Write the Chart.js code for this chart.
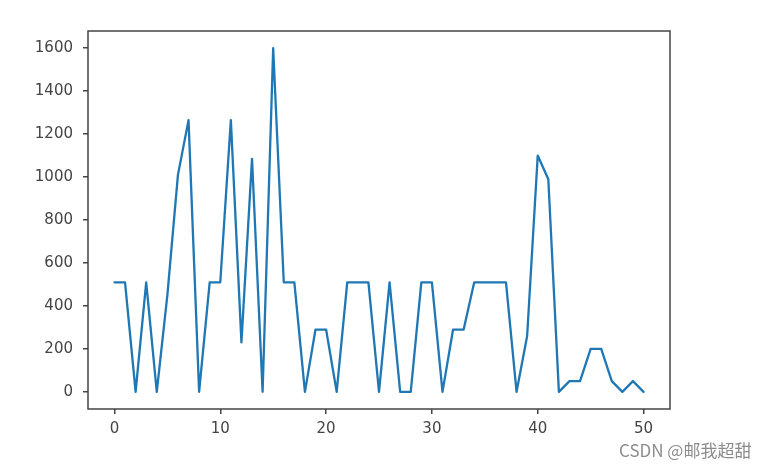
<!DOCTYPE html>
<html>
<head>
<meta charset="utf-8">
<script src="https://cdn.jsdelivr.net/npm/chart.js@4/dist/chart.umd.min.js"></script>
<style>
  html, body { margin: 0; padding: 0; background: #fff; }
  #wrap { position: relative; width: 769px; height: 467px; }
  #mark { position: absolute; left: 619px; top: 437px; font: 17px "Noto Sans CJK SC", "Liberation Sans", sans-serif; color: #8c8c8c; }
</style>
</head>
<body>
<div id="wrap">
  <canvas id="chart" width="769" height="467"></canvas>
  <div id="mark">CSDN @邮我超甜</div>
</div>
<script>
// values, one per x step 0..50
const xValues = [];
for (let i = 0; i <= 50; i++) xValues.push(i);
const yValues = [
  510, 510, 0, 510, 0, 450, 1010, 1265, 0, 510,
  510, 1265, 230, 1085, 0, 1600, 510, 510, 0, 290,
  290, 0, 510, 510, 510, 0, 510, 0, 0, 510,
  510, 0, 290, 290, 510, 510, 510, 510, 0, 260,
  1100, 990, 0, 50, 50, 200, 200, 50, 0, 50,
  0
];
const xTicks = [0, 10, 20, 30, 40, 50];
const yTicks = [0, 200, 400, 600, 800, 1000, 1200, 1400, 1600];

const tickFont = { family: "DejaVu Sans", size: 15 };
const axisColor = '#444';

// frame round the plot area like matplotlib's spines
const boxPlugin = {
  id: 'box',
  afterDraw(chart) {
    const a = chart.chartArea, ctx = chart.ctx;
    ctx.save();
    ctx.strokeStyle = axisColor;
    ctx.lineWidth = 1.5;
    ctx.strokeRect(a.left, a.top, a.right - a.left, a.bottom - a.top);
    ctx.restore();
  }
};

new Chart(document.getElementById('chart'), {
  type: 'line',
  data: {
    datasets: [{
      data: xValues.map((x, i) => ({ x: x, y: yValues[i] })),
      borderColor: '#1f77b4',
      borderWidth: 2.3,
      borderJoinStyle: 'round',
      borderCapStyle: 'round',
      pointRadius: 0,
      tension: 0,
      fill: false
    }]
  },
  options: {
    responsive: false,
    animation: false,
    layout: { padding: { left: 0, right: 99, top: 31, bottom: 0 } },
    plugins: { legend: { display: false }, tooltip: { enabled: false } },
    scales: {
      x: {
        type: 'linear',
        min: -2.5,
        max: 52.5,
        afterBuildTicks: (axis) => { axis.ticks = xTicks.map(v => ({ value: v })); },
        afterFit: (axis) => { axis.height = 467 - 409; },
        grid: { drawOnChartArea: false, drawTicks: true, tickLength: 5, color: axisColor, lineWidth: 1.5 },
        border: { display: false },
        ticks: { font: tickFont, color: axisColor, padding: 6, maxRotation: 0, callback: (v) => String(v) }
      },
      y: {
        min: -80,
        max: 1680,
        afterBuildTicks: (axis) => { axis.ticks = yTicks.map(v => ({ value: v })); },
        afterFit: (axis) => { axis.width = 88; },
        grid: { drawOnChartArea: false, drawTicks: true, tickLength: 5, color: axisColor, lineWidth: 1.5 },
        border: { display: false },
        ticks: { font: tickFont, color: axisColor, padding: 10, callback: (v) => String(v) }
      }
    }
  },
  plugins: [boxPlugin]
});
</script>
</body>
</html>
